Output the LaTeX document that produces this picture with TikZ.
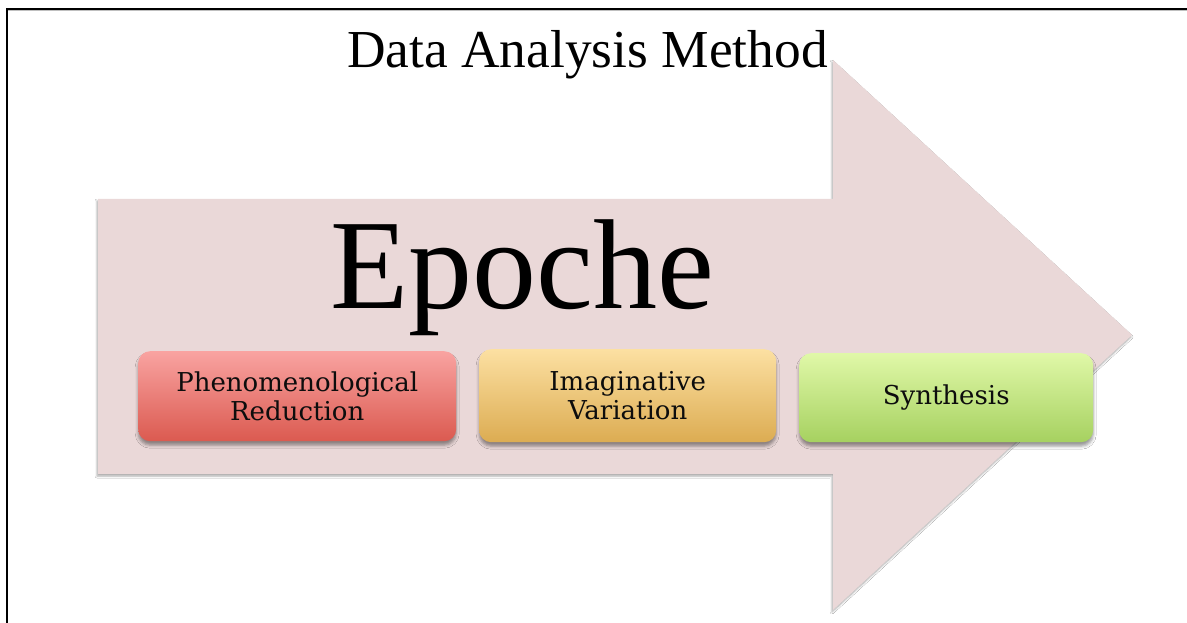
\documentclass[tikz,border=0pt]{standalone}
\usepackage{fontspec}
\setmainfont{Liberation Serif}
\newfontfamily\boxfont{DejaVu Serif}
\usetikzlibrary{shadows,shadows.blur}

\definecolor{arrowpink}{HTML}{EAD8D8}
\definecolor{redtop}{HTML}{F9A3A1}
\definecolor{redbot}{HTML}{DB5A50}
\definecolor{orgtop}{HTML}{FCE0A2}
\definecolor{orgbot}{HTML}{DCAC52}
\definecolor{grntop}{HTML}{E0F8A8}
\definecolor{grnbot}{HTML}{A6D160}
\definecolor{boxtext}{HTML}{0D0D0D}

\tikzset{
  stagebox/.style={
    rounded corners=12pt, anchor=north west, inner sep=0pt,
    align=center, text=boxtext,
    font=\boxfont\fontsize{26}{29}\selectfont,
    blur shadow={shadow xshift=0pt, shadow yshift=-4pt,
                 shadow blur radius=3pt, shadow opacity=40}
  }
}

\begin{document}
\begin{tikzpicture}[x=1pt, y=-1pt]
  % canvas
  \useasboundingbox (0,0) rectangle (1187,623);
  \fill[white] (0,0) rectangle (1187,623);

  % frame lines
  \draw[gray!50, line width=1pt] (8,11) -- (1187,11);
  \draw[line width=2pt] (7,623) -- (7,9) -- (1187,9);

  % large block arrow
  \fill[arrowpink, blur shadow={shadow xshift=-1pt, shadow yshift=-2pt,
                               shadow blur radius=2pt, shadow opacity=35}]
    (98,199) -- (833,199) -- (833,60) -- (1132,335) -- (833,610)
    -- (833,474) -- (98,474) -- cycle;

  % headings
  \node[anchor=base, inner sep=0pt, font=\fontsize{53.4}{60}\selectfont] (title)
    at (587.5,68) {Data Analysis Method};
  \node[anchor=base, inner sep=0pt, font=\fontsize{128}{130}\selectfont] (epoche)
    at (522.5,308) {Epoche};

  % stages
  \node[stagebox, top color=redtop, bottom color=redbot,
        minimum width=318pt, minimum height=90pt] (red) at (138,351)
    {Phenomenological\\Reduction};
  \node[stagebox, top color=orgtop, bottom color=orgbot,
        minimum width=297pt, minimum height=93pt] (orange) at (479,349)
    {Imaginative\\Variation};
  \node[stagebox, top color=grntop, bottom color=grnbot,
        minimum width=294pt, minimum height=89pt] (green) at (799,353)
    {\raisebox{-2pt}{Synthesis}};
\end{tikzpicture}
\end{document}
